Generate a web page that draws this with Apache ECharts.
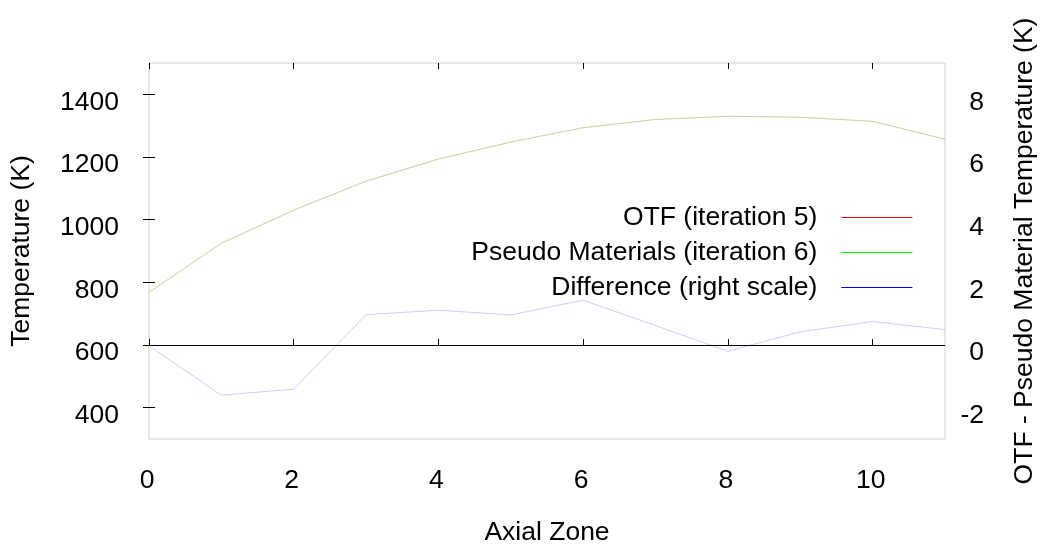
<!DOCTYPE html>
<html>
<head>
<meta charset="utf-8">
<script src="https://cdn.jsdelivr.net/npm/echarts@6/dist/echarts.min.js"></script>
<style>
  html, body { margin: 0; padding: 0; background: #fff; }
  #chart { width: 1044px; height: 544px; }
</style>
</head>
<body>
<div id="chart"></div>
<script>
// Axial zones along the core
const zones = [0, 1, 2, 3, 4, 5, 6, 7, 8, 9, 10, 11];
// Temperatures (K) per axial zone
const otfTemp = [768, 924, 1030, 1123, 1194, 1248, 1294, 1320, 1330, 1327, 1314, 1257];
const pseudoTemp = [768.03, 925.6, 1031.41, 1122.03, 1192.89, 1247.04, 1292.57, 1319.38, 1330.2, 1326.58, 1313.25, 1256.51];
// OTF minus pseudo material temperature (K), right scale
const diffTemp = [-0.03, -1.6, -1.41, 0.97, 1.11, 0.96, 1.43, 0.62, -0.2, 0.42, 0.75, 0.49];

// Tick positions
const xTicks = [0, 2, 4, 6, 8, 10];
const leftTicks = [400, 600, 800, 1000, 1200, 1400];
const rightTicks = [-2, 0, 2, 4, 6, 8];

const seriesNames = ['OTF (iteration 5)', 'Pseudo Materials (iteration 6)', 'Difference (right scale)'];
const seriesColors = ['#ff0000', '#00ff00', '#0000ff'];

const FONT = '"Liberation Sans", Arial, Helvetica, sans-serif';
const FS = 26.5;
const pairs = (ys) => zones.map((x, i) => [x, ys[i]]);
const plain = (v) => String(v);

const tickStyle = { show: true, inside: true, length: 6, lineStyle: { color: '#000', width: 1 } };
// y labels sit a little below their ticks
const yLabel = { fontFamily: FONT, fontSize: FS, color: '#000', formatter: plain, verticalAlign: 'top', lineHeight: 16 };

const chart = echarts.init(document.getElementById('chart'), null, { renderer: 'canvas' });
chart.setOption({
  animation: false,
  backgroundColor: '#fff',
  textStyle: { fontFamily: FONT, color: '#000' },
  grid: {
    left: 149, right: 99, top: 63, bottom: 105,
    outerBoundsMode: 'none',
    containLabel: false,
    show: true, borderColor: '#d0d0d0', borderWidth: 1, backgroundColor: 'transparent'
  },
  legend: {
    orient: 'vertical',
    align: 'right',
    right: 131,
    top: 204,
    padding: 0,
    itemWidth: 71,
    itemHeight: 14,
    itemGap: 8,
    textStyle: { fontFamily: FONT, fontSize: FS, color: '#000', lineHeight: 26, padding: [0, 19, 0, 0] },
    // plain solid line samples, no point marker
    data: seriesNames.map((n, i) => ({
      name: n,
      lineStyle: { color: seriesColors[i], opacity: 1, width: 1.2 },
      itemStyle: { opacity: 0 }
    }))
  },
  xAxis: [
    {
      type: 'value', min: 0, max: 11, position: 'bottom',
      name: 'Axial Zone', nameLocation: 'middle', nameGap: 80,
      nameTextStyle: { fontFamily: FONT, fontSize: FS, color: '#000' },
      axisLine: { show: false },
      axisTick: Object.assign({ customValues: xTicks }, tickStyle),
      axisLabel: { customValues: xTicks, formatter: plain, fontFamily: FONT, fontSize: FS, color: '#000', margin: 28, padding: [0, 4, 0, 0] },
      splitLine: { show: false }
    },
    {
      type: 'value', min: 0, max: 11, position: 'top',
      axisLine: { show: false },
      axisTick: Object.assign({ customValues: xTicks }, tickStyle),
      axisLabel: { show: false },
      splitLine: { show: false }
    }
  ],
  yAxis: [
    {
      type: 'value', min: 300, max: 1500, position: 'left',
      name: 'Temperature (K)', nameLocation: 'middle', nameRotate: 90, nameGap: 114,
      nameTextStyle: { fontFamily: FONT, fontSize: FS, color: '#000' },
      axisLine: { show: false },
      axisTick: Object.assign({ customValues: leftTicks }, tickStyle),
      axisLabel: Object.assign({ customValues: leftTicks, margin: 30 }, yLabel),
      splitLine: { show: false }
    },
    {
      type: 'value', min: -3, max: 9, position: 'right',
      name: 'OTF - Pseudo Material Temperature (K)', nameLocation: 'middle', nameRotate: 90, nameGap: 66,
      nameTextStyle: { fontFamily: FONT, fontSize: FS, color: '#000' },
      axisLine: { show: false },
      axisTick: Object.assign({ customValues: rightTicks }, tickStyle),
      axisLabel: Object.assign({ customValues: rightTicks, margin: 39, align: 'right' }, yLabel),
      splitLine: { show: false }
    }
  ],
  series: [
    {
      name: seriesNames[0], type: 'line', xAxisIndex: 0, yAxisIndex: 0,
      data: pairs(otfTemp), symbol: 'none',
      itemStyle: { color: seriesColors[0] },
      lineStyle: { color: 'rgba(255,0,0,0.22)', width: 1 }
    },
    {
      name: seriesNames[1], type: 'line', xAxisIndex: 0, yAxisIndex: 0,
      data: pairs(pseudoTemp), symbol: 'none',
      itemStyle: { color: seriesColors[1] },
      lineStyle: { color: 'rgba(0,255,0,0.22)', width: 1 }
    },
    {
      name: seriesNames[2], type: 'line', xAxisIndex: 0, yAxisIndex: 1,
      data: pairs(diffTemp), symbol: 'none',
      itemStyle: { color: seriesColors[2] },
      lineStyle: { color: 'rgba(0,0,255,0.2)', width: 1 },
      markLine: {
        silent: true, symbol: 'none', label: { show: false },
        lineStyle: { color: '#000', width: 1, type: 'solid' },
        data: [{ yAxis: 0 }]
      }
    }
  ]
});
</script>
</body>
</html>
